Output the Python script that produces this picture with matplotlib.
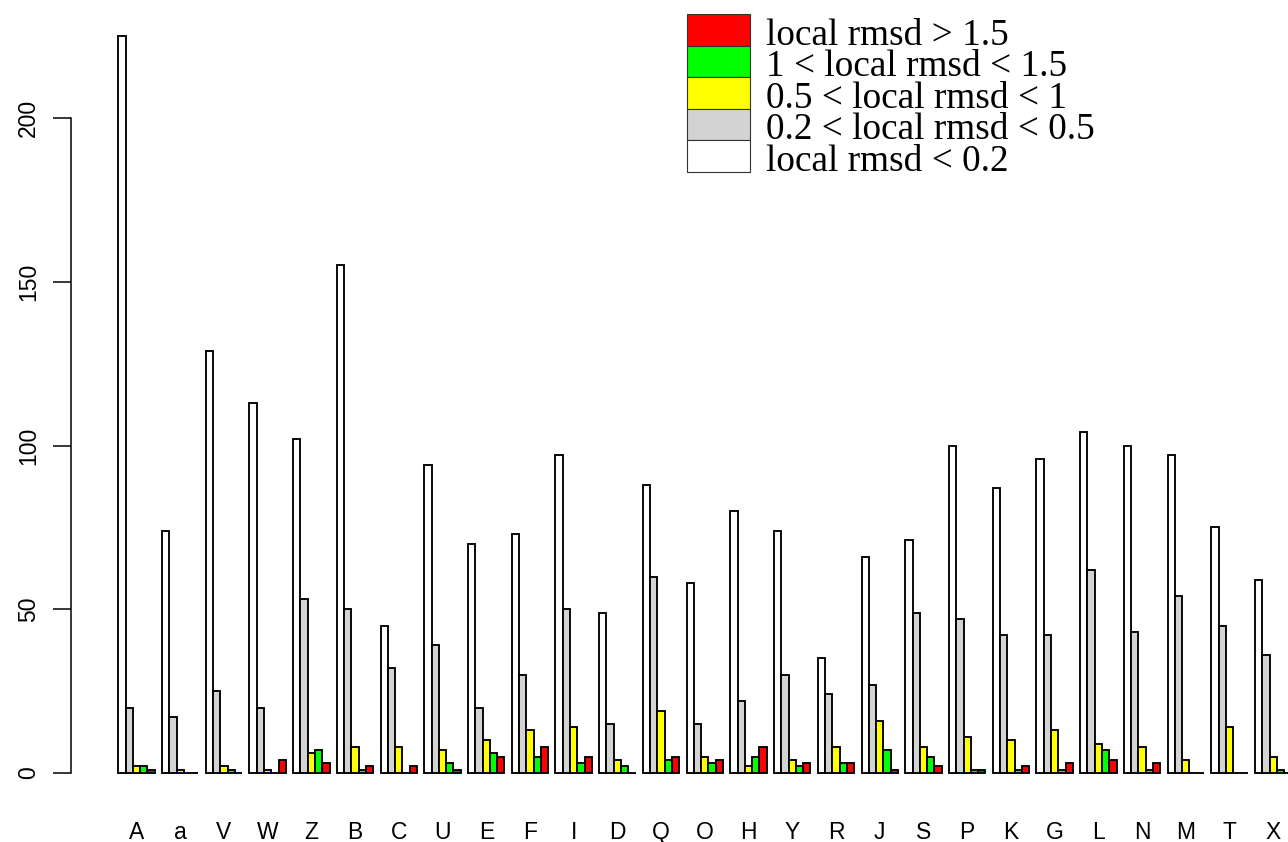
import matplotlib
matplotlib.use("Agg")
import matplotlib.pyplot as plt
from matplotlib.patches import Rectangle

categories = ['A', 'a', 'V', 'W', 'Z', 'B', 'C', 'U', 'E', 'F', 'I', 'D', 'Q', 'O',
              'H', 'Y', 'R', 'J', 'S', 'P', 'K', 'G', 'L', 'N', 'M', 'T', 'X']
lt_02 = [225, 74, 129, 113, 102, 155, 45, 94, 70, 73, 97, 49, 88, 58,
         80, 74, 35, 66, 71, 100, 87, 96, 104, 100, 97, 75, 59]
r_02_05 = [20, 17, 25, 20, 53, 50, 32, 39, 20, 30, 50, 15, 60, 15,
           22, 30, 24, 27, 49, 47, 42, 42, 62, 43, 54, 45, 36]
r_05_1 = [2, 1, 2, 1, 6, 8, 8, 7, 10, 13, 14, 4, 19, 5,
          2, 4, 8, 16, 8, 11, 10, 13, 9, 8, 4, 14, 5]
r_1_15 = [2, 0, 1, 0, 7, 1, 0, 3, 6, 5, 3, 2, 4, 3,
          5, 2, 3, 7, 5, 1, 1, 1, 7, 1, 0, 0, 1]
gt_15 = [1, 0, 0, 4, 3, 2, 2, 1, 5, 8, 5, 0, 5, 4,
         8, 3, 3, 1, 2, 1, 2, 3, 4, 3, 0, 0, 0]

series = [lt_02, r_02_05, r_05_1, r_1_15, gt_15]
series_colors = ['white', 'lightgray', 'yellow', '#00FF00', '#FF0000']
series_labels = ['local rmsd < 0.2', '0.2 < local rmsd < 0.5', '0.5 < local rmsd < 1',
                 '1 < local rmsd < 1.5', 'local rmsd > 1.5']
y_ticks = [0, 50, 100, 150, 200]

W, H = 1288, 842
fig = plt.figure(figsize=(W / 100, H / 100), dpi=100)
# axes region in pixels (R-like plot region, extends past right edge)
ax_l, ax_r, ax_t, ax_b = 71.4, 1338.3, 6.65, 802.5
ax = fig.add_axes([ax_l / W, (H - ax_b) / H, (ax_r - ax_l) / W, (ax_b - ax_t) / H])

n_groups = len(categories)
n_ser = len(series)
group_w = n_ser + 1
for j, (vals, col) in enumerate(zip(series, series_colors)):
    xs = [1 + group_w * i + j for i in range(n_groups)]
    ax.bar(xs, vals, width=1, align='edge', color=col, edgecolor='black',
           linewidth=1.35, zorder=2)

total = group_w * n_groups
pad_x = (total - 1) * 0.04
ax.set_xlim(1 - pad_x, total + pad_x)
ax.set_ylim(-0.04 * max(lt_02), max(lt_02) * 1.04)

centers = [1 + group_w * i + n_ser / 2 for i in range(n_groups)]
ax.set_xticks(centers)
ax.set_xticklabels(categories, family='Liberation Sans', fontsize=16.5)
ax.tick_params(axis='x', length=0, pad=13.5)

ax.set_yticks(y_ticks)
ax.set_yticklabels([str(t) for t in y_ticks], family='Liberation Sans', fontsize=16.5,
                   rotation=90, va='center')
ax.tick_params(axis='y', length=13.2, width=1.1, pad=9.5)

for s in ['top', 'right', 'bottom']:
    ax.spines[s].set_visible(False)
ax.spines['left'].set_bounds(0, 200)
ax.spines['left'].set_linewidth(1.1)

# legend (no border), drawn in figure pixel coords, reversed order
box_x0, box_x1 = 686.7, 750.0
row_top0, row_h = 14.0, 31.55
text_x = 766.0
for k, (lab, col) in enumerate(zip(series_labels[::-1], series_colors[::-1])):
    top = row_top0 + k * row_h
    rect = Rectangle((box_x0 / W, (H - top - row_h) / H), (box_x1 - box_x0) / W, row_h / H,
                     transform=fig.transFigure, facecolor=col, edgecolor='#333333',
                     linewidth=0.8)
    fig.patches.append(rect)
    fig.text(text_x / W, (H - (top + row_h - 1.0)) / H, lab, family='Liberation Serif',
             fontsize=26.8, ha='left', va='baseline')

fig.savefig('out.png', dpi=100)
